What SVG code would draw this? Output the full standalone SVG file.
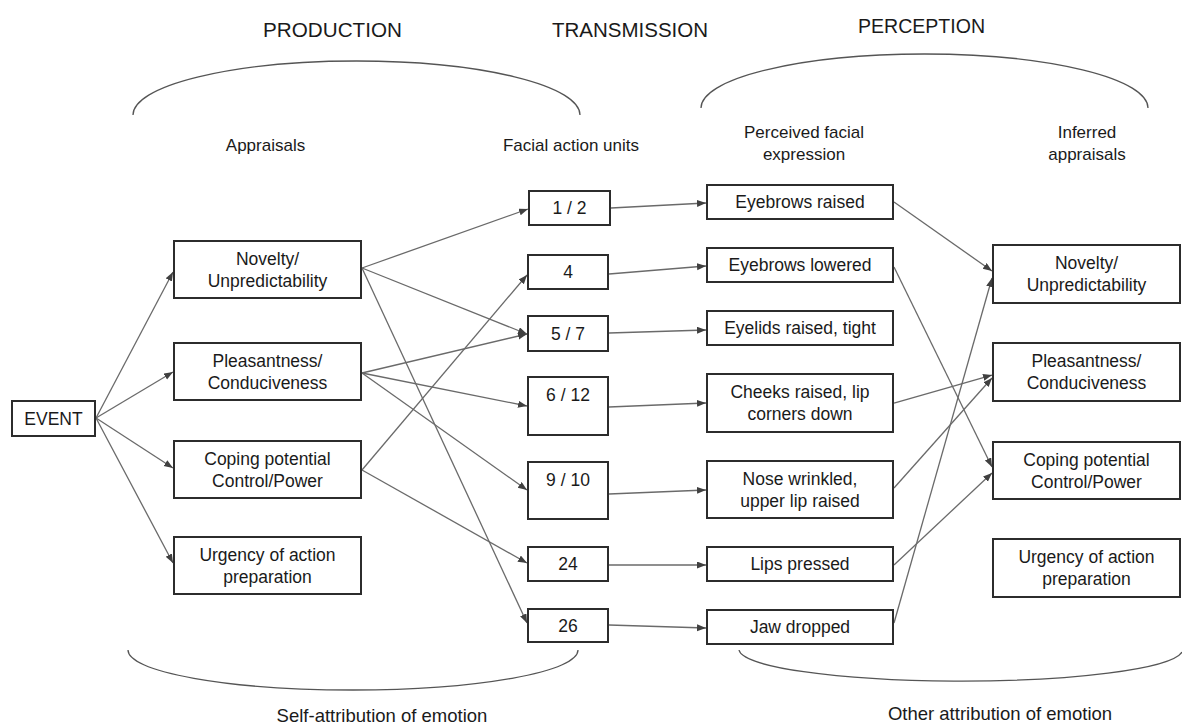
<svg xmlns="http://www.w3.org/2000/svg" width="1182" height="727" viewBox="0 0 1182 727">
<style>
.box{fill:#fff;stroke:#2c2c2c;stroke-width:2}
text{font-family:"Liberation Sans",Arial,sans-serif;font-size:17.5px;fill:#1a1a1a;text-anchor:middle}
.lbl{font-size:17px}
.title{font-size:20.5px}
.bot{font-size:18.5px}
.conn{stroke:#6a6a6a;stroke-width:1.3;fill:none;marker-end:url(#ah)}
.arc{stroke:#555;stroke-width:1.3;fill:none}
</style>
<defs>
<marker id="ah" markerUnits="userSpaceOnUse" markerWidth="10" markerHeight="8" refX="9" refY="3.5" orient="auto">
<path d="M0,0 L9,3.5 L0,7 z" fill="#404040"/>
</marker>
</defs>
<rect width="1182" height="727" fill="#fff"/>

<g id="headers">
<text class="title" x="332.5" y="37" textLength="139" lengthAdjust="spacingAndGlyphs">PRODUCTION</text>
<text class="title" x="630" y="37" textLength="156" lengthAdjust="spacingAndGlyphs">TRANSMISSION</text>
<text class="title" x="921.5" y="33" textLength="127" lengthAdjust="spacingAndGlyphs">PERCEPTION</text>
<path class="arc" d="M133,115 A223.5,54 0 0 1 580,115"/>
<path class="arc" d="M701,108 A223.5,54 0 0 1 1148,108"/>
<text class="lbl" x="265.5" y="151">Appraisals</text>
<text class="lbl" x="571" y="151">Facial action units</text>
<text class="lbl" x="804" y="138">Perceived facial</text>
<text class="lbl" x="804" y="160">expression</text>
<text class="lbl" x="1087" y="138">Inferred</text>
<text class="lbl" x="1087" y="160">appraisals</text>
<path class="arc" d="M128,650 A225,40 0 0 0 578,650"/>
<path class="arc" d="M739,650 A222,32 0 0 0 1182,652"/>
<text class="bot" x="382" y="722">Self-attribution of emotion</text>
<text class="bot" x="1000" y="720">Other attribution of emotion</text>
</g>

<g id="connectors">
<line class="conn" x1="96" y1="418" x2="173" y2="272"/>
<line class="conn" x1="96" y1="418" x2="173" y2="372"/>
<line class="conn" x1="96" y1="418" x2="173" y2="468"/>
<line class="conn" x1="96" y1="418" x2="173" y2="563"/>

<line class="conn" x1="362" y1="268" x2="528" y2="209"/>
<line class="conn" x1="362" y1="268" x2="527" y2="334"/>
<line class="conn" x1="362" y1="268" x2="527" y2="623"/>
<line class="conn" x1="362" y1="373" x2="527" y2="334"/>
<line class="conn" x1="362" y1="373" x2="527" y2="406"/>
<line class="conn" x1="362" y1="373" x2="527" y2="490"/>
<line class="conn" x1="362" y1="470" x2="527" y2="275"/>
<line class="conn" x1="362" y1="470" x2="527" y2="563"/>

<line class="conn" x1="611" y1="208" x2="706" y2="203"/>
<line class="conn" x1="609" y1="274" x2="706" y2="266"/>
<line class="conn" x1="609" y1="333" x2="706" y2="330"/>
<line class="conn" x1="609" y1="407" x2="706" y2="403"/>
<line class="conn" x1="609" y1="494" x2="706" y2="490"/>
<line class="conn" x1="609" y1="565" x2="706" y2="565"/>
<line class="conn" x1="609" y1="625" x2="706" y2="628"/>

<line class="conn" x1="894" y1="202" x2="992" y2="271"/>
<line class="conn" x1="894" y1="267" x2="992" y2="467"/>
<line class="conn" x1="894" y1="403" x2="992" y2="375"/>
<line class="conn" x1="894" y1="488" x2="992" y2="378"/>
<line class="conn" x1="894" y1="565" x2="992" y2="473"/>
<line class="conn" x1="894" y1="623" x2="992" y2="278"/>
</g>

<g id="event"><rect class="box" x="12" y="401" width="83" height="35"/><text x="53.5" y="424.5">EVENT</text></g>

<g id="a-novelty"><rect class="box" x="174" y="241" width="187" height="57"/><text x="267.5" y="265">Novelty/</text><text x="267.5" y="287">Unpredictability</text></g>
<g id="a-pleasant"><rect class="box" x="174" y="343" width="187" height="57"/><text x="267.5" y="367">Pleasantness/</text><text x="267.5" y="389">Conduciveness</text></g>
<g id="a-coping"><rect class="box" x="174" y="441" width="187" height="57"/><text x="267.5" y="465">Coping potential</text><text x="267.5" y="487">Control/Power</text></g>
<g id="a-urgency"><rect class="box" x="174" y="537" width="187" height="57"/><text x="267.5" y="561">Urgency of action</text><text x="267.5" y="583">preparation</text></g>

<g id="au-1-2"><rect class="box" x="529" y="191" width="81" height="34"/><text x="569.5" y="214">1 / 2</text></g>
<g id="au-4"><rect class="box" x="528" y="255" width="80" height="34"/><text x="568" y="278">4</text></g>
<g id="au-5-7"><rect class="box" x="528" y="316" width="80" height="35"/><text x="568" y="340">5 / 7</text></g>
<g id="au-6-12"><rect class="box" x="528" y="377" width="80" height="58"/><text x="568" y="401">6 / 12</text></g>
<g id="au-9-10"><rect class="box" x="528" y="462" width="80" height="57"/><text x="568" y="486">9 / 10</text></g>
<g id="au-24"><rect class="box" x="528" y="547" width="80" height="34"/><text x="568" y="570">24</text></g>
<g id="au-26"><rect class="box" x="528" y="609" width="80" height="33"/><text x="568" y="632">26</text></g>

<g id="p-brows-raised"><rect class="box" x="707" y="185" width="186" height="34"/><text x="800" y="208">Eyebrows raised</text></g>
<g id="p-brows-lowered"><rect class="box" x="707" y="248" width="186" height="34"/><text x="800" y="271">Eyebrows lowered</text></g>
<g id="p-eyelids"><rect class="box" x="707" y="311" width="186" height="34"/><text x="800" y="334">Eyelids raised, tight</text></g>
<g id="p-cheeks"><rect class="box" x="707" y="374" width="186" height="58"/><text x="800" y="398">Cheeks raised, lip</text><text x="800" y="420">corners down</text></g>
<g id="p-nose"><rect class="box" x="707" y="461" width="186" height="57"/><text x="800" y="485">Nose wrinkled,</text><text x="800" y="507">upper lip raised</text></g>
<g id="p-lips"><rect class="box" x="707" y="547" width="186" height="34"/><text x="800" y="570">Lips pressed</text></g>
<g id="p-jaw"><rect class="box" x="707" y="610" width="186" height="34"/><text x="800" y="633">Jaw dropped</text></g>

<g id="i-novelty"><rect class="box" x="993" y="245" width="187" height="58"/><text x="1086.5" y="269">Novelty/</text><text x="1086.5" y="291">Unpredictability</text></g>
<g id="i-pleasant"><rect class="box" x="993" y="343" width="187" height="58"/><text x="1086.5" y="367">Pleasantness/</text><text x="1086.5" y="389">Conduciveness</text></g>
<g id="i-coping"><rect class="box" x="993" y="442" width="187" height="57"/><text x="1086.5" y="466">Coping potential</text><text x="1086.5" y="488">Control/Power</text></g>
<g id="i-urgency"><rect class="box" x="993" y="539" width="187" height="58"/><text x="1086.5" y="563">Urgency of action</text><text x="1086.5" y="585">preparation</text></g>
</svg>
